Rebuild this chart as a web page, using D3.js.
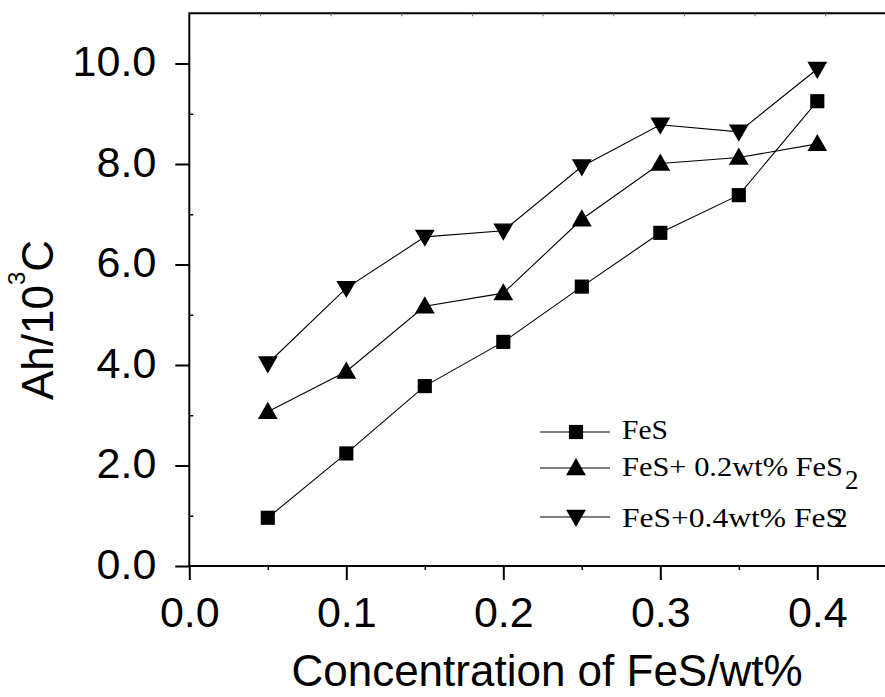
<!DOCTYPE html>
<html><head><meta charset="utf-8">
<script src="https://cdn.jsdelivr.net/npm/d3@7"></script>
<style>body{margin:0;background:#fff}svg{display:block}</style>
</head><body><svg id="c" width="885" height="697"></svg>
<script>
const xValues = [0.05, 0.10, 0.15, 0.20, 0.25, 0.30, 0.35, 0.40];
const fes = [0.96, 2.24, 3.58, 4.46, 5.56, 6.63, 7.38, 9.25];
const fes02 = [3.07, 3.87, 5.17, 5.43, 6.90, 8.01, 8.13, 8.40];
const fes04 = [4.03, 5.53, 6.55, 6.67, 7.95, 8.78, 8.64, 9.89];
const xTicks = [0.0, 0.1, 0.2, 0.3, 0.4];
const yTicks = [0, 2, 4, 6, 8, 10];
const seriesNames = ["FeS", "FeS+ 0.2wt% FeS", "FeS+0.4wt% FeS"];

const svg = d3.select("#c");
const x = d3.scaleLinear().domain([0, 0.45]).range([189.3, 895.8]);
const y = d3.scaleLinear().domain([0, 11]).range([566, 13.25]);
const sans = "'Liberation Sans', Arial, sans-serif";
const serif = "'Liberation Serif', 'Times New Roman', serif";

// frame
svg.append("rect").attr("x", x(0)).attr("y", y(11)).attr("width", x(0.45) - x(0)).attr("height", y(0) - y(11))
  .attr("fill", "none").attr("stroke", "#000").attr("stroke-width", 2);

// bottom axis
const xAxis = svg.append("g").attr("transform", `translate(0,${y(0)})`)
  .call(d3.axisBottom(x).tickValues(xTicks).tickSize(14).tickPadding(0).tickFormat(d3.format(".1f")));
xAxis.select(".domain").remove();
xAxis.selectAll("line").attr("stroke-width", 2);
xAxis.selectAll("text").attr("font-family", sans).attr("font-size", 43).attr("dy", null).attr("y", 61).attr("fill", "#000");
// x minor ticks
svg.append("g").attr("transform", `translate(0,${y(0)})`)
  .call(d3.axisBottom(x).tickValues([0.05, 0.15, 0.25, 0.35]).tickSize(4).tickFormat(""))
  .call(g => g.select(".domain").remove())
  .selectAll("line").attr("stroke-width", 1.5);

// left axis
const yAxis = svg.append("g").attr("transform", `translate(${x(0)},0)`)
  .call(d3.axisLeft(y).tickValues(yTicks).tickSize(14).tickPadding(0).tickFormat(d3.format(".1f")));
yAxis.select(".domain").remove();
yAxis.selectAll("line").attr("stroke-width", 2);
yAxis.selectAll("text").attr("font-family", sans).attr("font-size", 43).attr("dy", null).attr("x", -33).attr("y", 12).attr("fill", "#000");
svg.append("g").attr("transform", `translate(${x(0)},0)`)
  .call(d3.axisRight(y).tickValues([1, 3, 5, 7, 9]).tickSize(4).tickFormat(""))
  .call(g => g.select(".domain").remove())
  .selectAll("line").attr("stroke-width", 1.5);

// top axis faint ticks
svg.append("g").attr("transform", `translate(0,${y(11)})`)
  .call(d3.axisBottom(x).tickValues(d3.range(1, 10).map(i => i * 0.045)).tickSize(3).tickFormat(""))
  .call(g => g.select(".domain").remove())
  .selectAll("line").attr("stroke", "#666").attr("stroke-width", 1);

// axis titles
svg.append("text").attr("x", 547).attr("y", 686).attr("text-anchor", "middle")
  .attr("font-family", sans).attr("font-size", 44).attr("fill", "#000").text("Concentration of FeS/wt%");
const yt = svg.append("text").attr("transform", "translate(53,320) rotate(-90)").attr("text-anchor", "middle")
  .attr("font-family", sans).attr("font-size", 44).attr("fill", "#000");
yt.append("tspan").text("Ah/10");
yt.append("tspan").attr("font-size", 24).attr("dy", -28).text("3");
yt.append("tspan").attr("dy", 28).text("C");

// series
const line = d3.line().x((d, i) => x(xValues[i])).y(d => y(d));
const series = [
  {vals: fes, sym: d3.symbolSquare, size: 200, rot: 0},
  {vals: fes02, sym: d3.symbolTriangle, size: 170, rot: 0},
  {vals: fes04, sym: d3.symbolTriangle, size: 170, rot: 180}
];
series.forEach(s => {
  svg.append("path").datum(s.vals).attr("d", line).attr("fill", "none").attr("stroke", "#000").attr("stroke-width", 1.1);
});
series.forEach(s => {
  const sym = d3.symbol().type(s.sym).size(s.size);
  svg.append("g").selectAll("path").data(s.vals).join("path")
    .attr("d", sym)
    .attr("transform", (d, i) => `translate(${x(xValues[i])},${y(d) + (s.sym === d3.symbolTriangle ? (s.rot ? -1 : 1) * 1.5 : 0)}) rotate(${s.rot})`)
    .attr("fill", "#000");
});

// legend
const legRows = [432, 468, 517];
const legBase = [439, 476, 527];
series.forEach((s, k) => {
  const ly = legRows[k];
  svg.append("line").attr("x1", 540).attr("x2", 610).attr("y1", ly).attr("y2", ly).attr("stroke", "#000").attr("stroke-width", 1.1);
  svg.append("path").attr("d", d3.symbol().type(s.sym).size(s.size))
    .attr("transform", `translate(576,${ly + (s.sym === d3.symbolTriangle ? (s.rot ? -1 : 1) * 1.5 : 0)}) rotate(${s.rot})`).attr("fill", "#000");
});
const lt = (txt, yb, w) => svg.append("text").attr("x", 622).attr("y", yb).attr("font-family", serif).attr("font-size", 27)
  .attr("fill", "#000").attr("textLength", w).attr("lengthAdjust", "spacingAndGlyphs").text(txt);
lt(seriesNames[0], legBase[0], 46);
lt(seriesNames[1], legBase[1], 221);
lt(seriesNames[2], legBase[2], 221);
svg.append("text").attr("x", 845).attr("y", 489).attr("font-family", serif).attr("font-size", 27).attr("fill", "#000").text("2");
svg.append("text").attr("x", 834).attr("y", 527).attr("font-family", serif).attr("font-size", 27).attr("fill", "#000").text("2");
</script></body></html>
